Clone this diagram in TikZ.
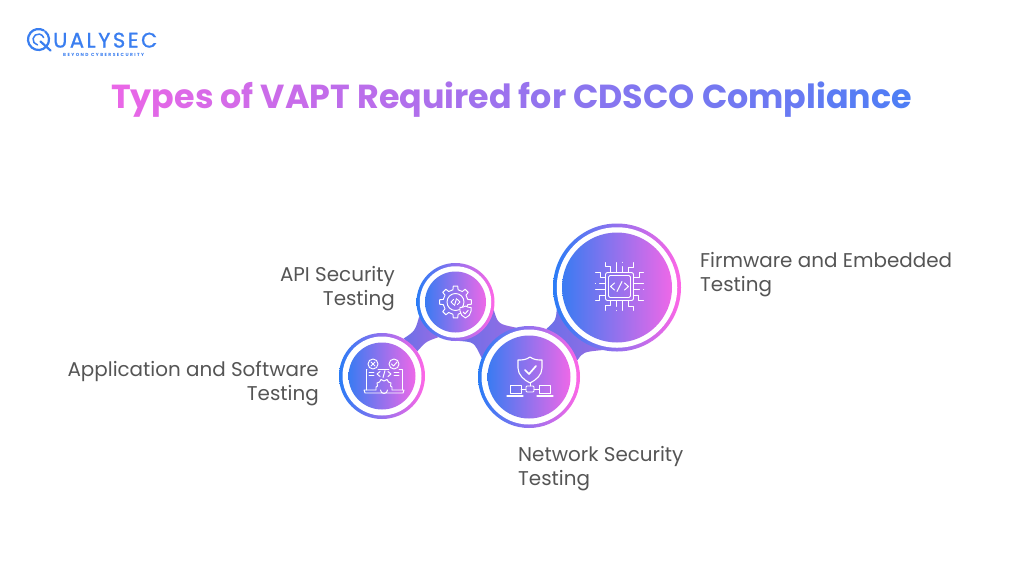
\documentclass[tikz,border=0pt]{standalone}
\usepackage{fontspec}
\setmainfont{Poppins}
\usetikzlibrary{backgrounds}
\definecolor{gblue}{HTML}{3A7BF2}
\definecolor{gpink}{HTML}{EE68E8}
\definecolor{rblue}{HTML}{2A7CF6}
\definecolor{rpink}{HTML}{FF66E6}
\definecolor{tb}{HTML}{4F7EF5}
\definecolor{tp}{HTML}{EE66E6}
\definecolor{lab}{HTML}{555555}
\definecolor{logoc}{HTML}{3A7EF0}
\definecolor{brA}{HTML}{6A70E8}
\definecolor{brB}{HTML}{986CE4}
\definecolor{shbg}{HTML}{B06EEC}
\newcount\gi
\def\gt#1{\gtA#1\relax}
\def\gtA#1{\ifx#1\relax\let\nxt\relax\else\global\advance\gi by 1 \edef\pp{\the\numexpr 100-\gi*100/37\relax}\textcolor{tp!\pp!tb}{#1}\let\nxt\gtA\fi\nxt}
\newcommand{\bridge}[6]{\path[left color=brA,right color=brB] (#1) .. controls (#2) .. (#3) -- (#4) .. controls (#5) .. (#6) -- cycle;}
\tikzset{
 ringo/.style={circle,inner sep=0pt,minimum size=#1,left color=rblue,right color=rpink},
 ringw/.style={circle,inner sep=0pt,minimum size=#1,fill=white},
 ringi/.style={circle,inner sep=0pt,minimum size=#1,left color=gblue,right color=gpink},
 icon/.style={draw=white,line width=.95pt,line cap=round,line join=round},
 label/.style={text=lab,font=\fontsize{19.9}{24.6}\selectfont},
}
\newcommand{\shieldpath}{(0,-13) .. controls (4,-10) and (8,-10) .. (12,-10) -- (12,-2) .. controls (12,5) and (6,10) .. (0,13) .. controls (-6,10) and (-12,5) .. (-12,-2) -- (-12,-10) .. controls (-8,-10) and (-4,-10) .. (0,-13) -- cycle}
\begin{document}
\begin{tikzpicture}[x=1pt,y=-1pt]
\useasboundingbox (0,0) rectangle (1024,576);
% outer rings
\node[ringo=128pt] (big) at (617,287.5) {};
\node[ringo=102pt] (net) at (529,377) {};
\node[ringo=78pt] (api) at (455.5,302) {};
\node[ringo=86pt] (app) at (382,376) {};
\begin{scope}[on background layer]
\fill[white] (0,0) rectangle (1024,576);
\bridge{app.60}{415,331}{api.202}{api.244}{426,341.5}{app.35}
\bridge{api.348}{498,324}{net.105}{net.158}{474,342}{api.276}
\bridge{net.70}{556,320}{big.200}{big.257}{583,352}{net.19}
\end{scope}
\node[ringw=120.5pt] at (big) {};
\node[ringw=95pt] at (net) {};
\node[ringw=71.5pt] at (api) {};
\node[ringw=79pt] at (app) {};
\node[ringi=110pt] (bigi) at (big) {};
\node[ringi=83pt] (neti) at (net) {};
\node[ringi=61pt] (apii) at (api) {};
\node[ringi=67pt] (appi) at (app) {};
% title
\node[anchor=base west,inner sep=0pt,font=\fontsize{33.3}{40}\bfseries\selectfont] (title) at (111,108)
 {\gt{Types}\ \gt{of}\ \gt{VAPT}\ \gt{Required}\ \gt{for}\ \gt{CDSCO}\ \gt{Compliance}};
% labels
\node[label,align=left,anchor=west,inner sep=0pt] (lfw) at (700,274.5) {Firmware and Embedded\\Testing};
\node[label,align=right,anchor=east,inner sep=0pt] (lapi) at (395,288.5) {API Security\\Testing};
\node[label,align=right,anchor=east,inner sep=0pt] (lapp) at (319,383.5) {Application and Software\\Testing};
\node[label,align=left,anchor=west,inner sep=0pt] (lnet) at (518,468.5) {Network Security\\Testing};
% logo
\begin{scope}[shift={(38.5,39.5)},draw=logoc,line cap=round]
\draw[line width=2.2pt] (-50:10.5) arc (-50:300:10.5);
\draw[line width=1.5pt] (100:5.5) arc (100:340:5.5);
\draw[line width=2.2pt] (2,2) -- (12,11);
\end{scope}
\node[anchor=base west,inner sep=0pt,text=logoc,font=\fontsize{21}{24}\selectfont] (logo) at (53,47.5) {\addfontfeature{FakeBold=1,LetterSpace=12}UALYSEC};
\node[anchor=base west,inner sep=0pt,text=logoc,font=\fontsize{4.4}{5}\bfseries\selectfont] (tag) at (63,56) {\addfontfeature{LetterSpace=33}BEYOND CYBERSECURITY};
% chip icon
\begin{scope}[shift={(619.5,286.5)}]
\draw[icon,rounded corners=2pt] (-14,-14) rectangle (14,14);
\draw[icon,rounded corners=1.5pt] (-11,-11) rectangle (11,11);
\draw[icon] (-5,-3.5) -- (-9,0) -- (-5,3.5) (5,-3.5) -- (9,0) -- (5,3.5) (2.5,-5) -- (-2.5,5);
\foreach \a in {0,90,180,270}{
\begin{scope}[rotate=\a]
\draw[icon] (-9,-14) -- (-9,-20) -- (-14,-20) -- (-14,-24);
\draw[icon] (-3,-14) -- (-3,-24);
\draw[icon] (3,-14) -- (3,-20) (3,-24) -- (3,-24.2);
\draw[icon] (9,-14) -- (9,-19) -- (14,-19) -- (14,-24);
\end{scope}}
\end{scope}
% network icon
\begin{scope}[shift={(530,370)}]
\draw[icon,line width=1.1pt] \shieldpath;
\draw[icon,line width=1.7pt] (-5,0) -- (-1,4) -- (6,-4);
\draw[icon] (0,13) -- (0,16);
\draw[icon,rounded corners=1pt] (-4,16) rectangle (4,22);
\draw[icon] (-20,15) rectangle (-9,23) (9,15) rectangle (20,23);
\draw[icon] (-9,19) -- (-4,19) (4,19) -- (9,19);
\draw[icon,line width=1.1pt] (-23,26) -- (-7,26) (7,26) -- (23,26);
\end{scope}
% api icon
\begin{scope}[shift={(455.5,302)}]
\draw[icon] (-12:12.5) \foreach \i in {0,...,7}{ -- (\i*45-12:12.5) -- (\i*45-8:16) -- (\i*45+8:16) -- (\i*45+12:12.5) -- (\i*45+33:12.5)} -- cycle;
\draw[icon] (0,0) circle (8.5);
\draw[icon] (-2,-2.5) -- (-4.5,0) -- (-2,2.5) (2,-2.5) -- (4.5,0) -- (2,2.5) (1,-3.5) -- (-1,3.5);
\begin{scope}[shift={(10,10)},scale=.46]
\path[fill=shbg,icon] \shieldpath;
\draw[icon,line width=1pt] (-5,0) -- (-1,4) -- (6,-4);
\end{scope}
\end{scope}
% app icon
\begin{scope}[shift={(384,376)}]
\draw[icon] (-18,14) -- (-18,-7) -- (-17,-7) (-6,-7) -- (5,-7) (15,-7) -- (18,-7) -- (18,14);
\draw[icon] (-20,14) -- (-8,14) (8,14) -- (20,14) -- (19,17) -- (-19,17) -- (-20,14);
\draw[icon] (-11,-12) circle (5) (10,-12) circle (5);
\draw[icon] (-13,-14) -- (-9,-10) (-13,-10) -- (-9,-14);
\draw[icon] (7.5,-12) -- (9.5,-10) -- (13,-14);
\draw[icon] (-4,-4.5) -- (-7,-2) -- (-4,.5) (4,-4.5) -- (7,-2) -- (4,.5) (1,-5.5) -- (-1,1.5);
\draw[icon] (-15,-3.5) -- (-10,-3.5) (-15,-.5) -- (-10,-.5) (10,-3.5) -- (15,-3.5) (10,-.5) -- (15,-.5);
\draw[icon] (-8,14) -- (-8,11) -- (-6.5,10) -- (-7,7) -- (-4.5,6) -- (-3,3.5) -- (0,5) -- (3,3.5) -- (4.5,6) -- (7,7) -- (6.5,10) -- (8,11) -- (8,14);
\draw[icon] (-3.5,14) arc (180:0:3.5);
\end{scope}
\end{tikzpicture}
\end{document}
